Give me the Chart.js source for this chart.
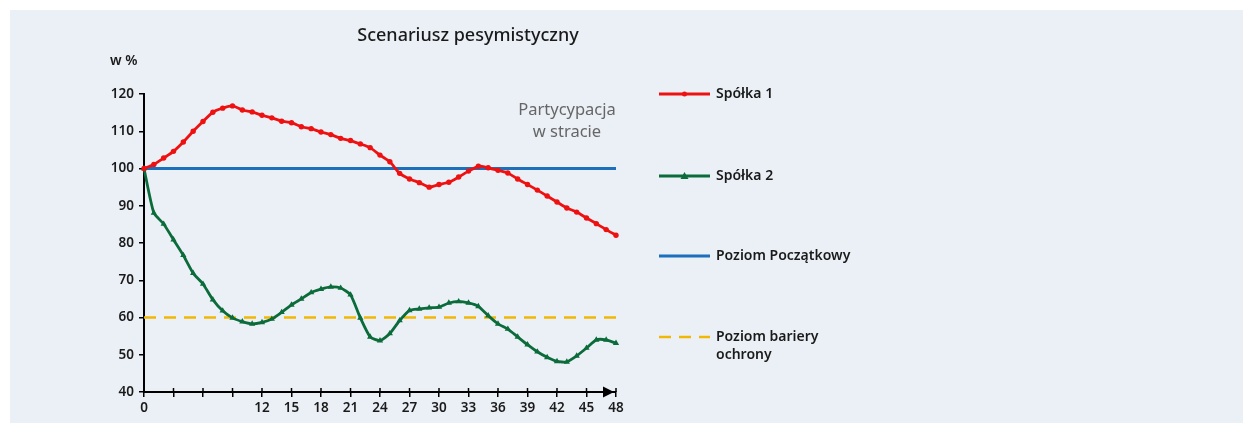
<!DOCTYPE html>
<html><head><meta charset="utf-8">
<script src="https://cdn.jsdelivr.net/npm/chart.js@4.4.1/dist/chart.umd.min.js"></script>
<style>
html,body{margin:0;padding:0;background:#fff;}
#wrap{position:relative;width:1253px;height:433px;}
#panel{position:absolute;left:10px;top:10px;width:1233px;height:413px;background:#ebf0f6;}
canvas{position:absolute;left:0;top:0;}
</style></head><body>
<div id="wrap"><div id="panel"></div><canvas id="c" width="1253" height="433"></canvas></div>
<script>
const months = [0,1,2,3,4,5,6,7,8,9,10,11,12,13,14,15,16,17,18,19,20,21,22,23,24,25,26,27,28,29,30,31,32,33,34,35,36,37,38,39,40,41,42,43,44,45,46,47,48];
const spolka1 = [100,101.1,102.8,104.6,107.1,110,112.6,115.1,116.2,116.8,115.7,115.2,114.3,113.6,112.7,112.3,111.2,110.7,109.8,109.1,108.1,107.5,106.6,105.6,103.6,101.8,98.7,97.2,96.2,95,95.7,96.3,97.7,99.3,100.6,100.2,99.5,98.8,97.2,95.7,94.2,92.6,91,89.4,88.3,86.7,85.2,83.6,82.1];
const spolka2 = [100,88.1,85.1,80.9,76.7,71.9,69,64.8,61.8,59.9,58.9,58.3,58.7,59.6,61.4,63.4,65,66.7,67.6,68.2,67.9,66.1,59.9,54.8,53.8,55.7,59.2,61.9,62.3,62.6,62.8,63.9,64.3,63.9,63,60.5,58.3,56.9,54.8,52.7,50.8,49.3,48.2,48.1,49.7,51.8,54,54,53.1];
const levelMonths = [0,48];
const poziomPoczatkowy = [100,100];
const poziomBariery = [60,60];
const xLabelsShown = [0,12,15,18,21,24,27,30,33,36,39,42,45,48];
const seriesNames = ['Spółka 1','Spółka 2','Poziom Początkowy','Poziom bariery ochrony'];

const pts = (xs, ys) => xs.map((x,i)=>({x:x, y:ys[i]}));
const FONT = '"Noto Sans", "DejaVu Sans", sans-serif';

const extras = {
  id:'extras',
  afterDraw(chart){
    const ctx = chart.ctx;
    const xs = chart.scales.x;
    ctx.save();
    // inward ticks on x axis
    ctx.strokeStyle = '#000'; ctx.lineWidth = 1.5;
    xs.ticks.forEach(t=>{
      const px = xs.getPixelForValue(t.value);
      ctx.beginPath(); ctx.moveTo(px, xs.top); ctx.lineTo(px, xs.top-4); ctx.stroke();
    });
    // arrow
    const ay = xs.top, ax = xs.getPixelForValue(48) - 2;
    ctx.fillStyle = '#000';
    ctx.beginPath(); ctx.moveTo(ax, ay); ctx.lineTo(ax-11, ay-5.5); ctx.lineTo(ax-11, ay+5.5); ctx.closePath(); ctx.fill();
    // title
    ctx.fillStyle = '#1a1a1a';
    ctx.font = '500 18px ' + FONT;
    ctx.textAlign = 'center'; ctx.textBaseline = 'middle';
    ctx.fillText('Scenariusz pesymistyczny', 468, 36);
    // unit
    ctx.font = '600 14px ' + FONT;
    ctx.textAlign = 'left';
    ctx.fillText('w %', 110, 61);
    // annotation
    ctx.fillStyle = '#666';
    ctx.font = '16.5px ' + FONT;
    ctx.textAlign = 'center';
    ctx.fillText('Partycypacja', 567, 110);
    ctx.fillText('w stracie', 567, 132);
    // legend
    const legY = [94, 176, 256, 337];
    chart.data.datasets.forEach((ds,i)=>{
      const y = legY[i];
      ctx.strokeStyle = ds.borderColor; ctx.lineWidth = ds.borderWidth;
      ctx.setLineDash(ds.borderDash || []);
      ctx.beginPath(); ctx.moveTo(659,y); ctx.lineTo(710,y); ctx.stroke();
      ctx.setLineDash([]);
      ctx.fillStyle = ds.borderColor;
      if (ds.pointStyle === 'circle' && ds.pointRadius>0){
        ctx.beginPath(); ctx.arc(684.5,y,2.5,0,Math.PI*2); ctx.fill();
      } else if (ds.pointStyle === 'triangle' && ds.pointRadius>0){
        ctx.beginPath(); ctx.moveTo(684.5,y-4); ctx.lineTo(688.5,y+3); ctx.lineTo(680.5,y+3); ctx.closePath(); ctx.fill();
      }
      ctx.fillStyle = '#1a1a1a';
      ctx.font = '600 14px ' + FONT;
      ctx.textAlign = 'left'; ctx.textBaseline = 'middle';
      if (i === 3){
        ctx.fillText('Poziom bariery', 716, y);
        ctx.fillText('ochrony', 716, y+18);
      } else {
        ctx.fillText(ds.label, 716, y);
      }
    });
    ctx.restore();
  }
};

new Chart(document.getElementById('c'), {
  type:'line',
  data:{
    datasets:[
      {label:seriesNames[0], data:pts(months,spolka1), borderColor:'#ee1111', backgroundColor:'#ee1111', borderWidth:2.8, pointStyle:'circle', pointRadius:2.7, pointBorderWidth:0, tension:0.2, clip:false, order:1},
      {label:seriesNames[1], data:pts(months,spolka2), borderColor:'#0b6b3a', backgroundColor:'#0b6b3a', borderWidth:2.8, pointStyle:'triangle', pointRadius:3.6, pointBorderWidth:0, tension:0.2, clip:false, order:2},
      {label:seriesNames[2], data:pts(levelMonths,poziomPoczatkowy), borderColor:'#1b6fbb', borderWidth:3, pointRadius:0, clip:false, order:3},
      {label:seriesNames[3], data:pts(levelMonths,poziomBariery), borderColor:'#f2b705', borderWidth:2.5, borderDash:[12,8], pointRadius:0, clip:false, order:4}
    ]
  },
  options:{
    responsive:false, animation:false,
    layout:{padding:{left:0, right:637, top:94, bottom:0}, autoPadding:false},
    plugins:{legend:{display:false}, title:{display:false}, tooltip:{enabled:false}},
    scales:{
      x:{type:'linear', min:0, max:48,
        afterFit(s){ s.height = 41; },
        border:{color:'#000', width:2},
        grid:{drawOnChartArea:false, color:'#000', lineWidth:1.5, tickLength:5},
        ticks:{stepSize:3, autoSkip:false, maxRotation:0, padding:3, color:'#1a1a1a', font:{family:FONT, size:13.5, weight:'600'},
          callback:(v)=> xLabelsShown.includes(v) ? String(v) : ''}
      },
      y:{min:40, max:120,
        afterFit(s){ s.width = 144; },
        border:{color:'#000', width:2},
        grid:{drawOnChartArea:false, color:'#000', lineWidth:1.5, tickLength:5},
        ticks:{stepSize:10, padding:5, color:'#1a1a1a', font:{family:FONT, size:13.5, weight:'600'}}
      }
    }
  },
  plugins:[extras]
});
</script>
</body></html>
